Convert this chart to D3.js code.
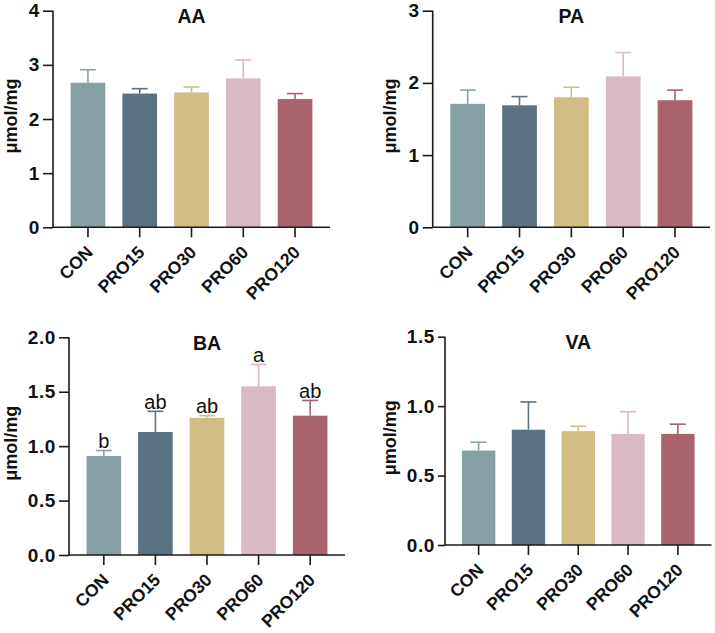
<!DOCTYPE html>
<html>
<head>
<meta charset="utf-8">
<script src="https://cdn.jsdelivr.net/npm/d3@7"></script>
<style>
  body { margin: 0; background: #fff; }
  svg { display: block; font-family: Arial, "Liberation Sans", Helvetica, sans-serif; }
</style>
</head>
<body>
<div id="main"></div>
<script>
// groups shared by all four panels
const groups = ["CON", "PRO15", "PRO30", "PRO60", "PRO120"];
const colors = ["#87a0a6", "#5b7381", "#d2bd84", "#d9b9c2", "#a9636c"];

// means and SD
const aaMean = [2.67, 2.47, 2.49, 2.75, 2.37];
const aaSd   = [0.24, 0.09, 0.10, 0.34, 0.10];
const paMean = [1.71, 1.69, 1.80, 2.09, 1.76];
const paSd   = [0.19, 0.12, 0.14, 0.33, 0.14];
const baMean = [0.91, 1.13, 1.26, 1.55, 1.28];
const baSd   = [0.05, 0.19, 0.02, 0.20, 0.14];
const baLetters = ["b", "ab", "ab", "a", "ab"];
const vaMean = [0.68, 0.83, 0.82, 0.80, 0.80];
const vaSd   = [0.06, 0.20, 0.035, 0.16, 0.07];

const aaTicks = [0, 1, 2, 3, 4];
const paTicks = [0, 1, 2, 3];
const baTicks = [0, 0.5, 1.0, 1.5, 2.0];
const vaTicks = [0, 0.5, 1.0, 1.5];

const yLabel = "μmol/mg";

const ctx = {
    w: 715,
    h: 633,
    AXIS_COLOR: "#1a1a1a",
};

const panels = [
    {title: "AA", mean: aaMean, sd: aaSd, ticks: aaTicks, fmt: d3.format("d"),
     x0: 53, x1: 330, top: 10.7, bot: 227.3, labelX: 17, yTick: 10},
    {title: "PA", mean: paMean, sd: paSd, ticks: paTicks, fmt: d3.format("d"),
     x0: 432.7, x1: 710, top: 10.7, bot: 227.3, labelX: 396, yTick: 10},
    {title: "BA", mean: baMean, sd: baSd, ticks: baTicks, fmt: d3.format(".1f"),
     x0: 69, x1: 345, top: 337.3, bot: 555, labelX: 17, yTick: 10, letters: baLetters},
    {title: "VA", mean: vaMean, sd: vaSd, ticks: vaTicks, fmt: d3.format(".1f"),
     x0: 445, x1: 711.5, top: 336.7, bot: 545, labelX: 396, yTick: 7},
];

function drawPanel(svg, p){
    let g = svg.append("g");
    let ymax = p.ticks[p.ticks.length - 1];

    let x = d3.scaleBand()
              .domain(groups)
              .range([p.x0, p.x1])
              .paddingInner(0.33)
              .paddingOuter(0.34);
    let y = d3.scaleLinear().domain([0, ymax]).range([p.bot, p.top]);

    let rows = groups.map((k, i) => ({k: k, m: p.mean[i], sd: p.sd[i], c: colors[i],
                                      letter: p.letters ? p.letters[i] : null}));

    // bars
    g.selectAll("rect.bar")
     .data(rows)
     .enter()
     .append("rect")
     .attr("x", d => x(d.k))
     .attr("y", d => y(d.m))
     .attr("width", x.bandwidth())
     .attr("height", d => y(0) - y(d.m))
     .attr("fill", d => d.c);

    // error bars (upper half only)
    let cap = 8;
    let eb = g.selectAll("g.err").data(rows).enter().append("g")
              .attr("stroke", d => d.c)
              .attr("stroke-width", 1.6);
    eb.append("line")
      .attr("x1", d => x(d.k) + x.bandwidth()/2)
      .attr("x2", d => x(d.k) + x.bandwidth()/2)
      .attr("y1", d => y(d.m))
      .attr("y2", d => y(d.m + d.sd));
    eb.append("line")
      .attr("x1", d => x(d.k) + x.bandwidth()/2 - cap)
      .attr("x2", d => x(d.k) + x.bandwidth()/2 + cap)
      .attr("y1", d => y(d.m + d.sd))
      .attr("y2", d => y(d.m + d.sd));

    // significance letters
    if (p.letters){
        g.selectAll("text.sig")
         .data(rows)
         .enter()
         .append("text")
         .attr("x", d => x(d.k) + x.bandwidth()/2)
         .attr("y", d => y(d.m + d.sd) - 2.5)
         .attr("text-anchor", "middle")
         .attr("font-size", 20)
         .attr("fill", "#111")
         .text(d => d.letter);
    }

    // y axis
    let yAxis = d3.axisLeft(y)
                  .tickValues(p.ticks)
                  .tickFormat(p.fmt)
                  .tickSize(p.yTick)
                  .tickPadding(3);
    let ya = g.append("g")
              .attr("transform", `translate(${p.x0},0)`)
              .call(yAxis);
    ya.select(".domain").attr("d", `M0,${p.top}V${p.bot}`);

    // x axis
    let xAxis = d3.axisBottom(x).tickSize(10).tickFormat("");
    let xa = g.append("g")
              .attr("transform", `translate(0,${p.bot})`)
              .call(xAxis);
    xa.select(".domain").attr("d", `M${p.x0},0H${p.x1}`);

    [ya, xa].forEach(function(a){
        a.selectAll("path, line")
         .attr("stroke", ctx.AXIS_COLOR)
         .attr("stroke-width", 1.6);
        a.selectAll("text")
         .attr("fill", "#111")
         .attr("font-size", 19)
         .attr("letter-spacing", 0.6)
         .attr("font-weight", "bold")
         .attr("font-family", null);
    });

    // rotated group labels
    g.selectAll("text.xl")
     .data(groups)
     .enter()
     .append("text")
     .attr("transform", d => `translate(${x(d) + x.bandwidth()/2 + 6},${p.bot + 26}) rotate(-45)`)
     .attr("text-anchor", "end")
     .attr("font-size", 17.5)
     .attr("font-weight", "bold")
     .attr("fill", "#111")
     .text(d => d);

    // title
    g.append("text")
     .attr("x", (p.x0 + p.x1)/2)
     .attr("y", p.top + 12.5)
     .attr("text-anchor", "middle")
     .attr("font-size", 19.5)
     .attr("font-weight", "bold")
     .attr("fill", "#111")
     .text(p.title);

    // y label
    g.append("text")
     .attr("transform", `translate(${p.labelX},${(p.top + p.bot)/2 - 3}) rotate(-90)`)
     .attr("text-anchor", "middle")
     .attr("font-size", 18)
     .attr("font-weight", "bold")
     .attr("fill", "#111")
     .text(yLabel);
}

function createViz(){
    let svg = d3.select("#main").append("svg")
                .attr("width", ctx.w)
                .attr("height", ctx.h);
    panels.forEach(p => drawPanel(svg, p));
}

createViz();
</script>
</body>
</html>
